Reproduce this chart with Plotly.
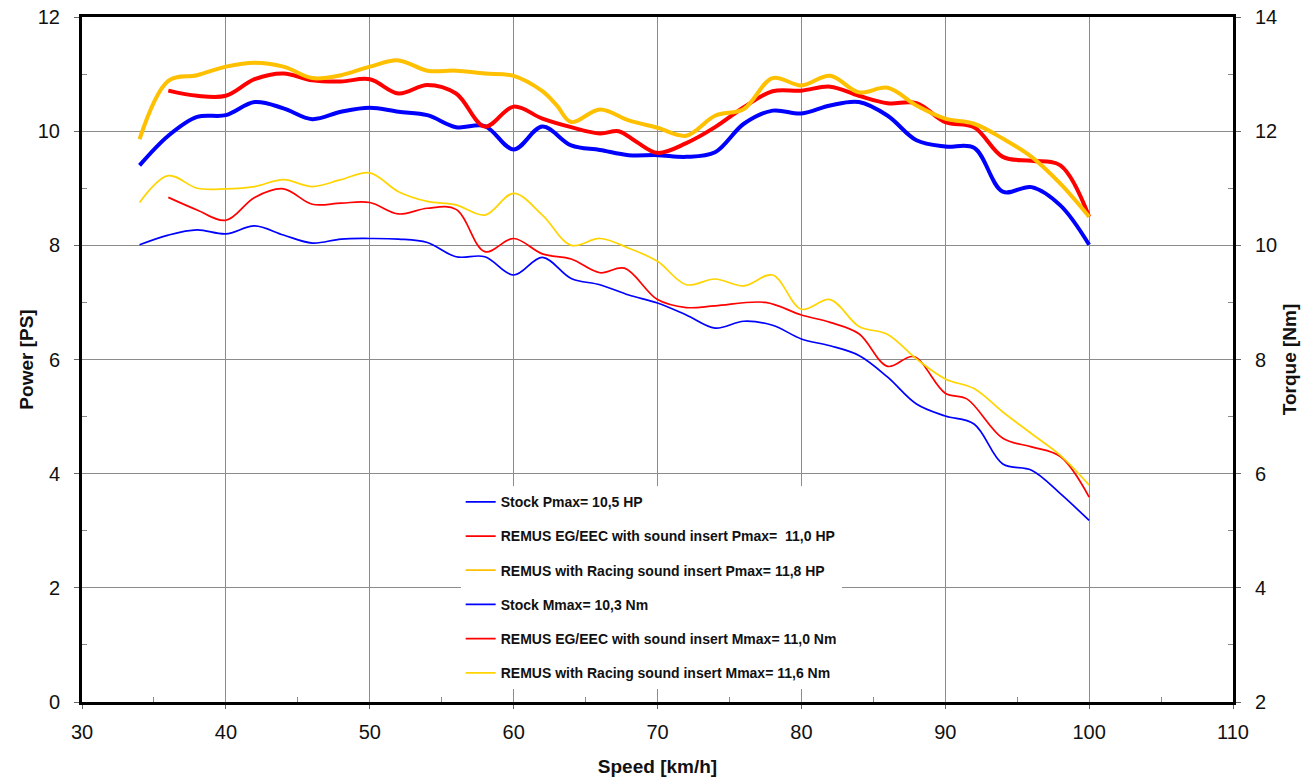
import plotly.graph_objects as go

# ---------------- data ----------------
speed_stock = [34, 36, 38, 40, 42, 44, 46, 48, 50, 52, 54, 56, 58, 60, 62, 64, 66, 68, 70, 72, 74,
               76, 78, 80, 82, 84, 86, 88, 90, 92, 94, 96, 98, 100]
power_stock = [9.40, 9.92, 10.25, 10.28, 10.51, 10.40, 10.21, 10.34, 10.41, 10.34, 10.28, 10.07, 10.09,
               9.68, 10.08, 9.75, 9.67, 9.58, 9.58, 9.55, 9.63, 10.13, 10.36, 10.31, 10.45, 10.51, 10.27,
               9.84, 9.73, 9.71, 8.94, 9.02, 8.70, 8.01]
torque_stock = [10.01, 10.18, 10.27, 10.20, 10.34, 10.18, 10.04, 10.11, 10.12, 10.11, 10.05, 9.80, 9.80,
                9.48, 9.79, 9.42, 9.31, 9.13, 8.99, 8.78, 8.55, 8.67, 8.60, 8.36, 8.24, 8.07, 7.69,
                7.22, 7.01, 6.87, 6.17, 6.06, 5.65, 5.18]

speed_eg_p = [36, 38, 40, 42, 44, 46, 48, 50, 52, 54, 56, 58, 60, 62, 64, 66, 67.3, 68.5, 70, 72, 74,
              76, 78, 80, 82, 84, 86, 88, 90, 92, 94, 96, 98, 100]
power_eg = [10.71, 10.62, 10.62, 10.91, 11.01, 10.89, 10.87, 10.91, 10.66, 10.81, 10.66, 10.08, 10.43,
            10.22, 10.07, 9.96, 10.00, 9.82, 9.62, 9.79, 10.07, 10.42, 10.70, 10.71, 10.78, 10.62,
            10.49, 10.49, 10.16, 10.07, 9.55, 9.48, 9.40, 8.50]

speed_eg_t = [36, 38, 40, 42, 44, 46, 48, 50, 52, 54, 56, 58, 60, 62, 64, 66, 67.7, 70, 72, 74, 77.5,
              80, 82, 84, 86, 87.8, 90, 91.5, 94, 96, 98, 100]
torque_eg = [10.84, 10.62, 10.44, 10.84, 10.99, 10.72, 10.74, 10.75, 10.55, 10.65, 10.63, 9.89, 10.12,
             9.85, 9.76, 9.52, 9.60, 9.05, 8.91, 8.94, 9.00, 8.78, 8.65, 8.45, 7.88, 8.05, 7.41, 7.31,
             6.62, 6.47, 6.30, 5.59]

speed_rc_p = [34, 36, 38, 40, 42, 44, 46, 48, 50, 52, 54, 56, 58, 60, 62, 63, 64, 66, 68, 70, 72, 74,
              76, 78, 80, 82, 84, 86, 88, 90, 92, 94, 96, 98, 100]
power_rc = [9.86, 10.88, 10.98, 11.13, 11.20, 11.13, 10.93, 10.98, 11.13, 11.24, 11.06, 11.06, 11.01,
            10.97, 10.70, 10.45, 10.16, 10.38, 10.19, 10.06, 9.92, 10.27, 10.39, 10.93, 10.80, 10.97,
            10.68, 10.76, 10.45, 10.22, 10.13, 9.87, 9.55, 9.08, 8.50]

speed_rc_t = [34, 36, 38, 40, 42, 44, 46, 48, 50, 52, 54, 56, 58, 60, 62, 64, 66, 68, 70, 72, 74, 76,
              78, 80, 82, 84, 86, 88, 90, 92, 94, 96, 98, 100]
torque_rc = [10.75, 11.22, 11.00, 10.99, 11.03, 11.15, 11.03, 11.15, 11.27, 10.94, 10.77, 10.71, 10.53,
             10.91, 10.53, 10.00, 10.12, 9.95, 9.72, 9.31, 9.41, 9.29, 9.48, 8.88, 9.05, 8.58, 8.44,
             8.01, 7.66, 7.49, 7.08, 6.70, 6.32, 5.80]

legend_names = [
    "Stock Pmax= 10,5 HP",
    "REMUS EG/EEC with sound insert Pmax=  11,0 HP",
    "REMUS with Racing sound insert Pmax= 11,8 HP",
    "Stock Mmax= 10,3 Nm",
    "REMUS EG/EEC with sound insert Mmax= 11,0 Nm",
    "REMUS with Racing sound insert Mmax= 11,6 Nm",
]

BLUE = "#0000FF"
RED = "#FF0000"
YEL_P = "#FFC000"
YEL_T = "#FFD400"

fig = go.Figure()

series = [
    (speed_stock, power_stock, BLUE, 4, "y"),
    (speed_eg_p, power_eg, RED, 4, "y"),
    (speed_rc_p, power_rc, YEL_P, 4, "y"),
    (speed_stock, torque_stock, BLUE, 1.7, "y2"),
    (speed_eg_t, torque_eg, RED, 1.7, "y2"),
    (speed_rc_t, torque_rc, YEL_T, 1.7, "y2"),
]
for xs, ys, col, w, ax in series:
    fig.add_trace(go.Scatter(x=xs, y=ys, mode="lines", yaxis=ax, showlegend=False,
                             line=dict(color=col, width=w, shape="spline", smoothing=1.0),
                             hoverinfo="skip"))

# legend entries (thin sample lines as in the reference)
for i, (name, s) in enumerate(zip(legend_names, series)):
    fig.add_trace(go.Scatter(x=[None], y=[None], mode="lines", name=name,
                             legendgroup=f"g{i}",
                             line=dict(color=s[2], width=1.8)))

FONT = "Liberation Sans, Arial, sans-serif"
tickfont = dict(family=FONT, size=20, color="#111")
titlefont = dict(family=FONT, size=19, color="#111", weight="bold")

fig.update_layout(
    width=1305, height=781,
    margin=dict(l=82, r=72, t=17, b=79),
    paper_bgcolor="white", plot_bgcolor="white",
    font=dict(family=FONT, color="#111"),
    legend=dict(x=0.329, y=0.315, xanchor="left", yanchor="top",
                bgcolor="white", borderwidth=0,
                font=dict(family=FONT, size=14, color="#111", weight="bold"),
                tracegroupgap=13, itemwidth=30),
    xaxis=dict(range=[30, 110], tickvals=[30, 40, 50, 60, 70, 80, 90, 100, 110],
               showgrid=True, gridcolor="#8c8c8c", gridwidth=1,
               showline=True, linecolor="black", linewidth=3, mirror=True,
               ticks="outside", ticklen=4, tickcolor="#666", ticklabelstandoff=6,
               minor=dict(tickvals=[35, 45, 55, 65, 75, 85, 95, 105], ticks="inside",
                          ticklen=5, tickcolor="#888", showgrid=False),
               tickfont=tickfont, zeroline=False, automargin=False,
               title=dict(text="Speed [km/h]", font=titlefont, standoff=18)),
    yaxis=dict(range=[0, 12], tickvals=[0, 2, 4, 6, 8, 10, 12],
               showgrid=True, gridcolor="#8c8c8c", gridwidth=1,
               showline=True, linecolor="black", linewidth=3, mirror=True,
               ticks="outside", ticklen=5, tickcolor="#666", ticklabelstandoff=10,
               minor=dict(tickvals=[1, 3, 5, 7, 9, 11], ticks="inside",
                          ticklen=5, tickcolor="#888", showgrid=False),
               tickfont=tickfont, zeroline=False, automargin=False,
               title=dict(text="Power [PS]", font=titlefont, standoff=0)),
    yaxis2=dict(range=[2, 14], tickvals=[2, 4, 6, 8, 10, 12, 14], overlaying="y", side="right",
                showgrid=False, showline=True, linecolor="black", linewidth=3,
                ticks="outside", ticklen=5, tickcolor="#666", ticklabelstandoff=10,
                minor=dict(tickvals=[3, 5, 7, 9, 11, 13], ticks="inside",
                           ticklen=5, tickcolor="#888"),
                tickfont=tickfont, zeroline=False, automargin=False,
                title=dict(text="Torque [Nm]", font=titlefont, standoff=7)),
)

# remove the default page margin so the figure fills the window exactly
fig.write_html("out.html", config={"displayModeBar": False},
               post_script="document.body.style.margin='0';")
